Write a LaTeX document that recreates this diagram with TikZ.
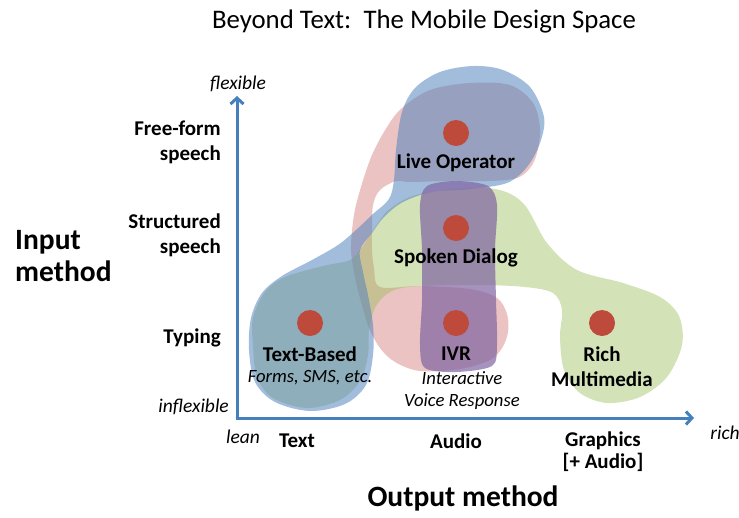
\documentclass[tikz,border=0pt]{standalone}
\usepackage{fontspec}
\setmainfont{Carlito}
\usetikzlibrary{arrows.meta}
\definecolor{axisblue}{RGB}{70,127,190}
\definecolor{bblue}{RGB}{79,129,189}
\definecolor{bpink}{RGB}{192,80,77}
\definecolor{bgreen}{RGB}{155,187,89}
\definecolor{bpurple}{RGB}{128,100,162}
\definecolor{dotred}{RGB}{190,74,60}
\tikzset{
  blobpink/.style={fill=bpink, fill opacity=0.34, draw=none},
  blobgreen/.style={fill=bgreen, fill opacity=0.43, draw=none},
  blobblue/.style={fill=bblue, fill opacity=0.53, draw=none},
  blobpurple/.style={fill=bpurple, fill opacity=0.7, draw=none},
  dot/.style={circle, fill=dotred, draw=none, minimum size=26pt, inner sep=0pt},
  lbl/.style={font=\fontsize{21}{25}\selectfont\bfseries, inner sep=0pt},
  sublbl/.style={font=\fontsize{18.7}{22}\selectfont\itshape, inner sep=0pt, align=center},
  axlbl/.style={font=\fontsize{21}{25}\selectfont\bfseries, inner sep=0pt},
  endlbl/.style={font=\fontsize{19.5}{22}\selectfont\itshape, inner sep=0pt},
  biglbl/.style={font=\fontsize{29.5}{32}\selectfont\bfseries, inner sep=0pt},
  axis/.style={draw=axisblue, line width=3pt, -{Straight Barb[length=6pt,width=13pt]}},
}
\begin{document}
\begin{tikzpicture}[x=1pt,y=-1pt]
\useasboundingbox (0,0) rectangle (739,517);

% pink blob: Live Operator + left band + IVR
\fill[blobpink] plot[smooth cycle, tension=0.55] coordinates {
 (470,83) (510,85) (533,103) (540,128) (537,153) (530,168) (517,178)
 (490,181) (450,181) (410,182) (396,181) (380,190) (373,205) (372,230) (372,250) (374,268) (380,287)
 (420,286) (470,289) (497,298) (507,314) (508,332) (502,348) (490,360)
 (460,369) (420,371) (395,362) (380,348) (369,328) (362,305) (356,282)
 (351,250) (354,215) (361,187) (372,155) (387,127) (402,108) (430,90)};

% green blob: Text-Based + Spoken Dialog + Rich Multimedia
\fill[blobgreen] plot[smooth cycle, tension=0.55] coordinates {
 (253,318) (265,292) (285,277) (323,266) (350,260) (362,247) (374,229)
 (390,209) (420,194) (487,188) (522,202) (547,243) (577,270) (623,283)
 (660,297) (679,316) (682,345) (667,377) (640,397) (607,403) (580,393)
 (564,370) (560,337) (562,310) (553,293) (525,287) (480,285) (420,286)
 (392,291) (376,306) (369,330) (368,355) (360,381) (340,400) (307,408)
 (273,398) (257,377) (253,345)};

% blue blob: Live Operator + band + Text-Based
\fill[blobblue] plot[smooth cycle, tension=0.55] coordinates {
 (473,66) (503,70) (530,87) (544,117) (540,143) (527,167) (507,183)
 (470,189) (432,192) (403,202) (384,217) (372,233) (360,250) (363,272)
 (368,295) (373,325) (373,355) (366,385) (345,404) (310,411) (275,402) (255,382)
 (249,350) (251,318) (262,293) (282,276) (312,260) (338,245) (356,230)
 (373,214) (389,199) (394,180) (396,150) (402,112) (415,88) (440,72)};

% purple band: Live Operator -> Spoken Dialog -> IVR
\fill[blobpurple] plot[smooth cycle, tension=0.5] coordinates {
 (456,181) (488,186) (497,205) (495,250) (496,300) (497,345) (492,366)
 (456,372) (425,368) (420,345) (422,300) (422,250) (420,205) (427,186)};

% axes
\coordinate (origin) at (237,418);
\coordinate (ytop) at (237,96);
\coordinate (xend) at (694,418);
\draw[axis] (origin) -- (ytop);
\draw[axis] ([xshift=-1.5pt]origin) -- (xend);

% dots
\node[dot] (dLive) at (456,133) {};
\node[dot] (dSpoken) at (456,228) {};
\node[dot] (dText) at (310,323) {};
\node[dot] (dIVR) at (456,323) {};
\node[dot] (dRich) at (602,323) {};

% category labels
\node[lbl] (lLive) at (456,163) {Live Operator};
\node[lbl] (lSpoken) at (456,258) {Spoken Dialog};
\node[lbl] (lText) at (310,354) {Text-Based};
\node[sublbl] (sText) at (310,378) {Forms, SMS, etc.};
\node[lbl] (lIVR) at (456,354) {IVR};
\node[sublbl] (sIVR) at (462,391) {Interactive\\Voice Response};
\node[lbl, align=center, font=\fontsize{21}{25}\selectfont\bfseries] (lRich) at (602,367) {Rich\\Multimedia};

% title
\node[inner sep=0pt, font=\fontsize{26.8}{30}\selectfont] (title) at (424,21) {Beyond Text:\ \ The Mobile Design Space};

% y-axis labels
\node[endlbl] (flex) at (238,84) {flexible};
\node[endlbl, anchor=east] (inflex) at (229,407) {inflexible};
\node[axlbl, anchor=east, align=right] (free) at (221,142) {Free-form\\speech};
\node[axlbl, anchor=east, align=right] (struct) at (221,235) {Structured\\speech};
\node[axlbl, anchor=east] (typing) at (221,338) {Typing};
\node[biglbl, anchor=west, align=left] (input) at (15,256) {Input\\method};

% x-axis labels
\node[endlbl] (lean) at (243,437) {lean};
\node[axlbl] (text) at (297,441) {Text};
\node[axlbl] (audio) at (456,441) {Audio};
\node[axlbl, align=center, font=\fontsize{21}{22}\selectfont\bfseries] (graph) at (603,452) {Graphics\\{[}+ Audio{]}};
\node[endlbl] (rich) at (725,433) {rich};
\node[biglbl] (output) at (463,498) {Output method};
\end{tikzpicture}
\end{document}
